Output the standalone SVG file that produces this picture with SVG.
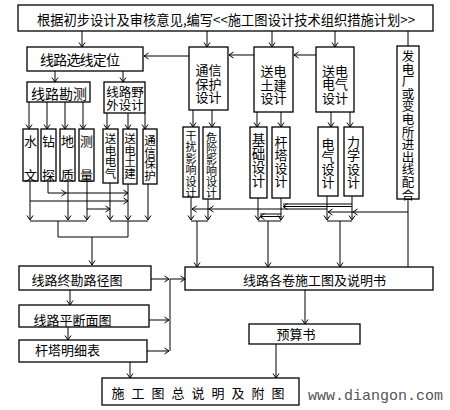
<svg xmlns="http://www.w3.org/2000/svg" width="450" height="410" viewBox="0 0 450 410">
<defs>
<marker id="a" markerWidth="8" markerHeight="8" refX="6" refY="4" orient="auto" markerUnits="userSpaceOnUse"><path d="M1.5,1 L6,4 L1.5,7" fill="none" stroke="#000" stroke-width="1"/></marker>
</defs>
<style>
.b{fill:#fff;stroke:#000;stroke-width:1.3}
.t{font-family:"Noto Sans CJK SC","Noto Sans",sans-serif;fill:#000;dominant-baseline:central;text-anchor:middle}
.c path{fill:none;stroke:#000;stroke-width:1}
.ar{marker-end:url(#a)}
</style>
<rect width="450" height="410" fill="#fff"/>
<g class="c" id="connectors">
<path class="ar" d="M82,31V47"/>
<path class="ar" d="M207,31V47"/>
<path class="ar" d="M272,31V47"/>
<path class="ar" d="M335,31V47"/>
<path d="M408,31V46"/>
<path class="ar" d="M189,56H144"/>
<path class="ar" d="M254,55H229"/>
<path class="ar" d="M316,55H294"/>
<path class="ar" d="M55,71V82"/>
<path class="ar" d="M123,71V82"/>
<path class="ar" d="M29,102V129"/>
<path class="ar" d="M47,102V129"/>
<path class="ar" d="M65,102V129"/>
<path class="ar" d="M83,102V129"/>
<path class="ar" d="M107,113V129"/>
<path class="ar" d="M128,113V129"/>
<path class="ar" d="M145,113V129"/>
<path class="ar" d="M30,181V220"/>
<path class="ar" d="M48,181V193H66"/>
<path class="ar" d="M66,193H128"/>
<path class="ar" d="M30,201H128"/>
<path class="ar" d="M68,181V220"/>
<path class="ar" d="M87,181V220"/>
<path class="ar" d="M87,209H110"/>
<path d="M30,221H87"/>
<path class="ar" d="M110,183V220"/>
<path class="ar" d="M128,184V220"/>
<path class="ar" d="M148,184V220"/>
<path d="M110,221H148"/>
<path d="M58,221V237H128V221"/>
<path class="ar" d="M92,237V265"/>
<path class="ar" d="M193,110V127"/>
<path class="ar" d="M212,110V127"/>
<path class="ar" d="M257,112V127"/>
<path class="ar" d="M281,112V127"/>
<path class="ar" d="M331,112V127"/>
<path class="ar" d="M350,112V127"/>
<path class="ar" d="M191,197V220"/>
<path class="ar" d="M208,199V220"/>
<path d="M191,221H208"/>
<path class="ar" d="M197,221V267"/>
<path class="ar" d="M327,209H209"/>
<path class="ar" d="M209,209H192"/>
<path class="ar" d="M258,198V220"/>
<path class="ar" d="M281,198V220"/>
<path d="M258,221H281"/>
<path class="ar" d="M268,221V267"/>
<path d="M352,204H283"/>
<path class="ar" d="M352,206.5H283"/>
<path d="M281,214H260"/>
<path class="ar" d="M281,216.5H260"/>
<path class="ar" d="M327,196V220"/>
<path class="ar" d="M352,196V220"/>
<path d="M327,221H352"/>
<path class="ar" d="M340,221V267"/>
<path class="ar" d="M408,212H353"/>
<path class="ar" d="M353,212H328"/>
<path d="M408,199V267"/>
<path class="ar" d="M151,279H169"/>
<path d="M170,279V351"/>
<path class="ar" d="M170,279H185"/>
<path class="ar" d="M70,290V305"/>
<path class="ar" d="M149,320H169"/>
<path class="ar" d="M68,327V340"/>
<path class="ar" d="M147,351H169"/>
<path class="ar" d="M130,362V378"/>
<path class="ar" d="M305,290V324"/>
<path class="ar" d="M276,344V378"/>
</g>
<g id="top"><rect class="b" x="18" y="5" width="415" height="26"/><text class="t" x="226" y="19" font-size="14" textLength="378" lengthAdjust="spacingAndGlyphs">根据初步设计及审核意见,编写&lt;&lt;施工图设计技术组织措施计划&gt;&gt;</text></g>
<g id="xuanxian"><rect class="b" x="27" y="47" width="116" height="24"/><text class="t" x="80" y="58.5" font-size="14" textLength="80">线路选线定位</text></g>
<g id="kance"><rect class="b" x="27" y="82" width="63" height="20"/><text class="t" x="59" y="93" font-size="14">线路勘测</text></g>
<g id="yewai"><rect class="b" x="104" y="82" width="41" height="31"/><text class="t" font-size="12.5"><tspan x="125" y="91">线路野</tspan><tspan x="125" y="104">外设计</tspan></text></g>
<g id="shuiwen"><rect class="b" x="23" y="129" width="15" height="52"/><text class="t" font-size="13"><tspan x="30.5" y="140">水</tspan><tspan x="30.5" y="174">文</tspan></text></g>
<g id="zuantan"><rect class="b" x="41" y="129" width="15" height="52"/><text class="t" font-size="13"><tspan x="48.5" y="140">钻</tspan><tspan x="48.5" y="174">探</tspan></text></g>
<g id="dizhi"><rect class="b" x="60" y="129" width="15" height="52"/><text class="t" font-size="13"><tspan x="67.5" y="140">地</tspan><tspan x="67.5" y="174">质</tspan></text></g>
<g id="celiang"><rect class="b" x="79" y="129" width="15" height="52"/><text class="t" font-size="13"><tspan x="86.5" y="140">测</tspan><tspan x="86.5" y="174">量</tspan></text></g>
<g id="sddq"><rect class="b" x="103" y="129" width="15" height="54"/><text class="t" font-size="11.5"><tspan x="110.5" y="138">送</tspan><tspan x="110.5" y="149.5">电</tspan><tspan x="110.5" y="161">电</tspan><tspan x="110.5" y="172.5">气</tspan></text></g>
<g id="sdtj"><rect class="b" x="123" y="129" width="14" height="55"/><text class="t" font-size="11.5"><tspan x="130" y="138">送</tspan><tspan x="130" y="149.5">电</tspan><tspan x="130" y="161">土</tspan><tspan x="130" y="172.5">建</tspan></text></g>
<g id="txbh"><rect class="b" x="143" y="129" width="14" height="55"/><text class="t" font-size="11.5"><tspan x="150" y="140">通</tspan><tspan x="150" y="151.7">信</tspan><tspan x="150" y="163.3">保</tspan><tspan x="150" y="175">护</tspan></text></g>
<g id="txbhsj"><rect class="b" x="189" y="47" width="39" height="63"/><text class="t" font-size="13"><tspan x="208.5" y="69">通信</tspan><tspan x="208.5" y="82.5">保护</tspan><tspan x="208.5" y="96">设计</tspan></text></g>
<g id="sdtjsj"><rect class="b" x="254" y="47" width="39" height="65"/><text class="t" font-size="13"><tspan x="273.5" y="70">送电</tspan><tspan x="273.5" y="83.5">土建</tspan><tspan x="273.5" y="97">设计</tspan></text></g>
<g id="sddqsj"><rect class="b" x="316" y="47" width="38" height="65"/><text class="t" font-size="13"><tspan x="335" y="69.5">送电</tspan><tspan x="335" y="83">电气</tspan><tspan x="335" y="96.5">设计</tspan></text></g>
<g id="fadianchang"><rect class="b" x="397" y="46" width="22" height="153"/><text class="t" font-size="12.5"><tspan x="408" y="55">发</tspan><tspan x="408" y="67.6">电</tspan><tspan x="408" y="80.2">厂</tspan><tspan x="408" y="92.8">或</tspan><tspan x="408" y="105.4">变</tspan><tspan x="408" y="118">电</tspan><tspan x="408" y="130.6">所</tspan><tspan x="408" y="143.2">进</tspan><tspan x="408" y="155.8">出</tspan><tspan x="408" y="168.4">线</tspan><tspan x="408" y="181">配</tspan><tspan x="408" y="193.6">合</tspan></text></g>
<g id="ganrao"><rect class="b" x="183" y="127" width="16" height="70"/><text class="t" font-size="11"><tspan x="191" y="135">干</tspan><tspan x="191" y="146.4">扰</tspan><tspan x="191" y="157.8">影</tspan><tspan x="191" y="169.2">响</tspan><tspan x="191" y="180.6">设</tspan><tspan x="191" y="192">计</tspan></text></g>
<g id="weixian"><rect class="b" x="203" y="127" width="17" height="72"/><text class="t" font-size="11"><tspan x="211.5" y="137">危</tspan><tspan x="211.5" y="148">险</tspan><tspan x="211.5" y="159">影</tspan><tspan x="211.5" y="170">响</tspan><tspan x="211.5" y="181">设</tspan><tspan x="211.5" y="192">计</tspan></text></g>
<g id="jichu"><rect class="b" x="250" y="127" width="17" height="71"/><text class="t" font-size="13.5"><tspan x="258.5" y="139">基</tspan><tspan x="258.5" y="152.7">础</tspan><tspan x="258.5" y="166.4">设</tspan><tspan x="258.5" y="180">计</tspan></text></g>
<g id="ganta"><rect class="b" x="272" y="127" width="18" height="71"/><text class="t" font-size="13"><tspan x="281" y="141">杆</tspan><tspan x="281" y="154">塔</tspan><tspan x="281" y="167">设</tspan><tspan x="281" y="180">计</tspan></text></g>
<g id="dianqi"><rect class="b" x="318" y="127" width="20" height="69"/><text class="t" font-size="13"><tspan x="328" y="143">电</tspan><tspan x="328" y="155.7">气</tspan><tspan x="328" y="168.4">设</tspan><tspan x="328" y="181">计</tspan></text></g>
<g id="lixue"><rect class="b" x="344" y="127" width="19" height="69"/><text class="t" font-size="13"><tspan x="353.5" y="141">力</tspan><tspan x="353.5" y="154.3">学</tspan><tspan x="353.5" y="167.6">设</tspan><tspan x="353.5" y="181">计</tspan></text></g>
<g id="zhongkan"><rect class="b" x="19" y="266" width="132" height="24"/><text class="t" x="77" y="279" font-size="13">线路终勘路径图</text></g>
<g id="pingduan"><rect class="b" x="19" y="305" width="130" height="22"/><text class="t" x="72.5" y="319" font-size="13">线路平断面图</text></g>
<g id="mingxi"><rect class="b" x="19" y="340" width="128" height="22"/><text class="t" x="67.5" y="349" font-size="13">杆塔明细表</text></g>
<g id="zongshuoming"><rect class="b" x="102" y="378" width="197" height="27"/><text class="t" font-size="13"><tspan x="118" y="392">施</tspan><tspan x="138" y="392">工</tspan><tspan x="158" y="392">图</tspan><tspan x="178" y="392">总</tspan><tspan x="198" y="392">说</tspan><tspan x="218" y="392">明</tspan><tspan x="238" y="392">及</tspan><tspan x="258" y="392">附</tspan><tspan x="278" y="392">图</tspan></text></g>
<g id="gejuan"><rect class="b" x="185" y="267" width="248" height="23"/><text class="t" x="314.5" y="279" font-size="13">线路各卷施工图及说明书</text></g>
<g id="yusuan"><rect class="b" x="249" y="324" width="111" height="20"/><text class="t" x="296" y="333" font-size="13">预算书</text></g>
<text x="308" y="400" font-family="Liberation Mono,monospace" font-size="15" fill="#555">www.diangon.com</text>
</svg>
